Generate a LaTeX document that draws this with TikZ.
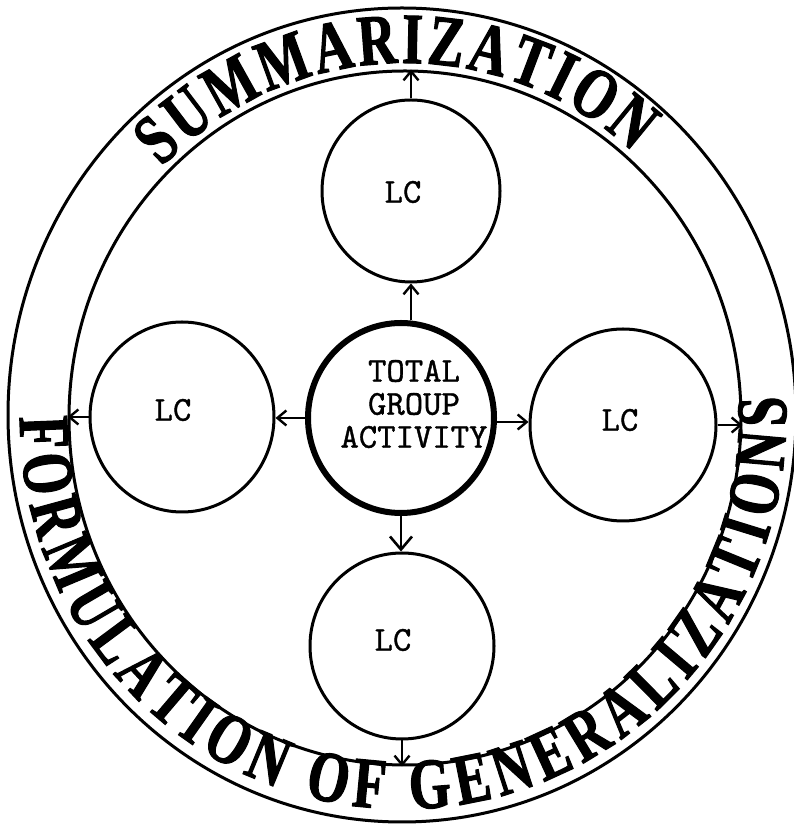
\documentclass[tikz,border=0pt]{standalone}
\usepackage{fontspec}
\newfontfamily\ringfamily[FakeStretch=0.74, BoldFeatures={FakeBold=1.6}]{Liberation Serif}
\newfontfamily\twfont[FakeBold=1.0]{lmmono10-regular.otf}
\usetikzlibrary{shapes.geometric,arrows.meta,decorations.text,calc}
\tikzset{
  lcbox/.style={draw, ellipse, line width=3pt, inner sep=0pt},
  tgabox/.style={draw, ellipse, line width=6pt, inner sep=0pt},
  ringline/.style={draw, ellipse, line width=3pt, inner sep=0pt},
  lctext/.style={font=\fontsize{35}{33}\selectfont\twfont, align=center, inner sep=0pt},
  arr/.style={line width=2.4pt, -{Straight Barb[length=9pt,width=15pt]}},
  bigarr/.style={line width=2.6pt, -{Straight Barb[length=13pt,width=22pt]}},
  ringtext/.style={decorate, decoration={text along path, text align={fit to path}, text={#1}}}
}
\begin{document}
\begin{tikzpicture}[x=1pt,y=1pt]
\fill[white] (0,0) rectangle (793,827);
\useasboundingbox (0,0) rectangle (793,827);

% ring
\node[ringline, minimum width=788pt, minimum height=814pt] (outer) at (402,412) {};
\node[ringline, minimum width=672pt, minimum height=694pt] (inner) at (405,409) {};

% ring texts
\path[ringtext={|\ringfamily\bfseries\fontsize{72}{72}\selectfont|SUMMARIZATION}]
  ([shift={(405,409)}]135:344pt and 355pt)
  arc[start angle=135, end angle=48.5, x radius=344pt, y radius=355pt];
\path[ringtext={|\ringfamily\bfseries\fontsize{72}{72}\selectfont|FORMULATION OF GENERALIZATIONS}]
  ([shift={(403,410)}]180:383pt and 392pt)
  arc[start angle=180, end angle=363, x radius=383pt, y radius=392pt];

% circles
\node[tgabox, minimum width=186pt, minimum height=190pt,
  label={[lctext, xshift=13pt, yshift=14pt]center:TOTAL\\GROUP\\ACTIVITY}] (tga) at (401,409) {};
\node[lcbox, minimum width=178pt, minimum height=182pt,
  label={[lctext, xshift=-8pt, yshift=-1pt]center:LC}] (tlc) at (411,636) {};
\node[lcbox, minimum width=184pt, minimum height=190pt,
  label={[lctext, xshift=-9pt, yshift=7pt]center:LC}] (llc) at (182,410) {};
\node[lcbox, minimum width=186pt, minimum height=192pt,
  label={[lctext, xshift=-3pt, yshift=5pt]center:LC}] (rlc) at (623,402) {};
\node[lcbox, minimum width=184pt, minimum height=186pt,
  label={[lctext, xshift=-9pt, yshift=6pt]center:LC}] (blc) at (402,181) {};

% arrows from the centre
\draw[arr] (tlc.south |- tga.north) -- (tlc.south);
\draw[arr] (tga.west) -- (tga.west -| llc.east);
\draw[arr] ([yshift=-4pt]tga.east) -- ([yshift=-4pt]tga.east -| rlc.west);
\draw[bigarr] (tga.south) -- (tga.south |- blc.north);

% arrows to the ring
\draw[arr] (tlc.north) -- (tlc.north |- inner.north);
\draw[arr] (llc.west) -- (llc.west -| inner.west);
\draw[arr] (rlc.east) -- (rlc.east -| inner.east);
\draw[arr] (blc.south) -- (blc.south |- inner.south);
\end{tikzpicture}
\end{document}
